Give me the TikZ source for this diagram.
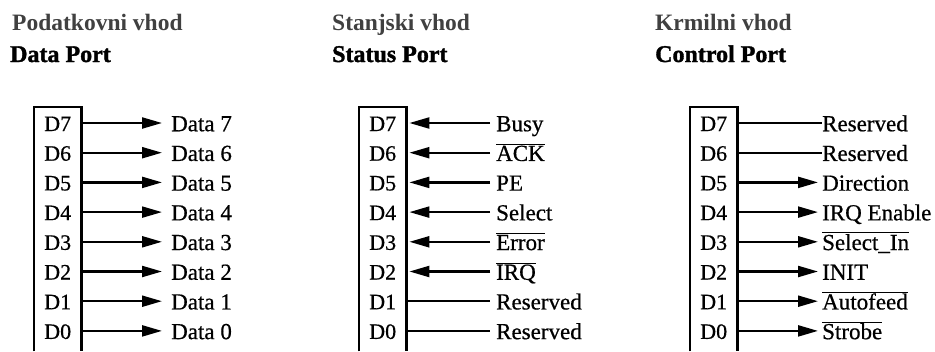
\documentclass[tikz,border=0pt]{standalone}
\usepackage{fontspec}
\setmainfont{Liberation Serif}
\newfontfamily\heavyfont{Liberation Serif}[UprightFeatures={FakeBold=0.6}, BoldFeatures={FakeBold=1.4}]
\usepackage{tikz}
\usetikzlibrary{arrows.meta, positioning, calc}
\definecolor{titlegray}{HTML}{404040}
\newcommand{\negsig}[1]{\ensuremath{\overline{\mbox{#1}}}}
\tikzset{
    title/.style = {inner sep=0pt, anchor=base west, font=\fontsize{23.5}{24}\selectfont\bfseries, text=titlegray},
    port/.style  = {inner sep=0pt, anchor=base west, font=\heavyfont\fontsize{24}{24}\selectfont\bfseries},
    frame/.style = {inner sep=0pt, anchor=north west, minimum width=47pt, minimum height=244pt},
    pin/.style   = {inner sep=0pt, text height=16pt, text depth=0pt, font=\heavyfont\fontsize{22}{22}\selectfont},
    sig/.style   = {inner sep=0pt, anchor=west, text height=16.5pt, text depth=0pt, font=\heavyfont\fontsize{23}{23}\selectfont},
    edge/.style  = {line width=2.8pt},
    wire/.style  = {line width=2.2pt},
    arrow/.style = {wire, -{Triangle[length=20pt, width=11pt]}}
}

\begin{document}
\begin{tikzpicture}[x=1pt, y=-1pt]
        \useasboundingbox (0,0) rectangle (935,351);

        % Titles
        \node (dtitle) [title] at (12,30) {Podatkovni vhod};
        \node (dport) [port] at (10,62) {Data Port};
        \node (stitle) [title] at (332,30) {Stanjski vhod};
        \node (sport) [port] at (332,62) {Status Port};
        \node (ctitle) [title] at (655,30) {Krmilni vhod};
        \node (cport) [port] at (655,62) {Control Port};

        % Register frames (open at the bottom)
        \node (databox) [frame] at (34,107) {};
        \node (statbox) [frame] at (359,107) {};
        \node (ctrlbox) [frame] at (690,107) {};
        \foreach \b in {databox, statbox, ctrlbox}
            \draw [edge] (\b.south west) |- (\b.north east) -- (\b.south east);

        % Signal columns
        \coordinate (dcol) at (171,0);
        \coordinate (scol) at (496,0);
        \coordinate (ccol) at (822,0);

        % Bit labels
        \foreach \i in {0,...,7} {
            \node (dp\i) [pin] at ($(databox.north)+(0,16+29.7*7-29.7*\i)$) {D\i};
            \node (sp\i) [pin] at ($(statbox.north)+(0,16+29.7*7-29.7*\i)$) {D\i};
            \node (cp\i) [pin] at ($(ctrlbox.north)+(0,16+29.7*7-29.7*\i)$) {D\i};
        }

        % DATA PORT (outputs)
        \foreach \i in {0,...,7} {
            \node (dat\i) [sig] at (dcol |- dp\i) {Data \i};
            \draw [arrow, shorten >=9pt] (databox.east |- dp\i) -- (dat\i.west);
        }

        % STATUS PORT (inputs)
        \foreach \i/\name in {7/Busy, 6/{\negsig{ACK}}, 5/PE, 4/Select, 3/{\negsig{Error}}, 2/{\negsig{IRQ}}} {
            \node (st\i) [sig] at (scol |- sp\i) {\name};
            \draw [arrow, shorten <=6pt, shorten >=3pt] (st\i.west) -- (statbox.east |- sp\i);
        }
        \foreach \i in {1,0} {
            \node (st\i) [sig] at (scol |- sp\i) {Reserved};
            \draw [wire, shorten >=6pt] (statbox.east |- sp\i) -- (st\i.west);
        }

        % CONTROL PORT
        \foreach \i in {7,6} {
            \node (ct\i) [sig] at (ccol |- cp\i) {Reserved};
            \draw [wire] (ctrlbox.east |- cp\i) -- (ct\i.west);
        }
        \foreach \i/\name in {5/Direction, 4/IRQ Enable, 3/{\negsig{Select\_In}}, 2/INIT, 1/{\negsig{Autofeed}}, 0/{\negsig{Strobe}}} {
            \node (ct\i) [sig] at (ccol |- cp\i) {\name};
            \draw [arrow, shorten >=4pt] (ctrlbox.east |- cp\i) -- (ct\i.west);
        }
    \end{tikzpicture}
\end{document}
